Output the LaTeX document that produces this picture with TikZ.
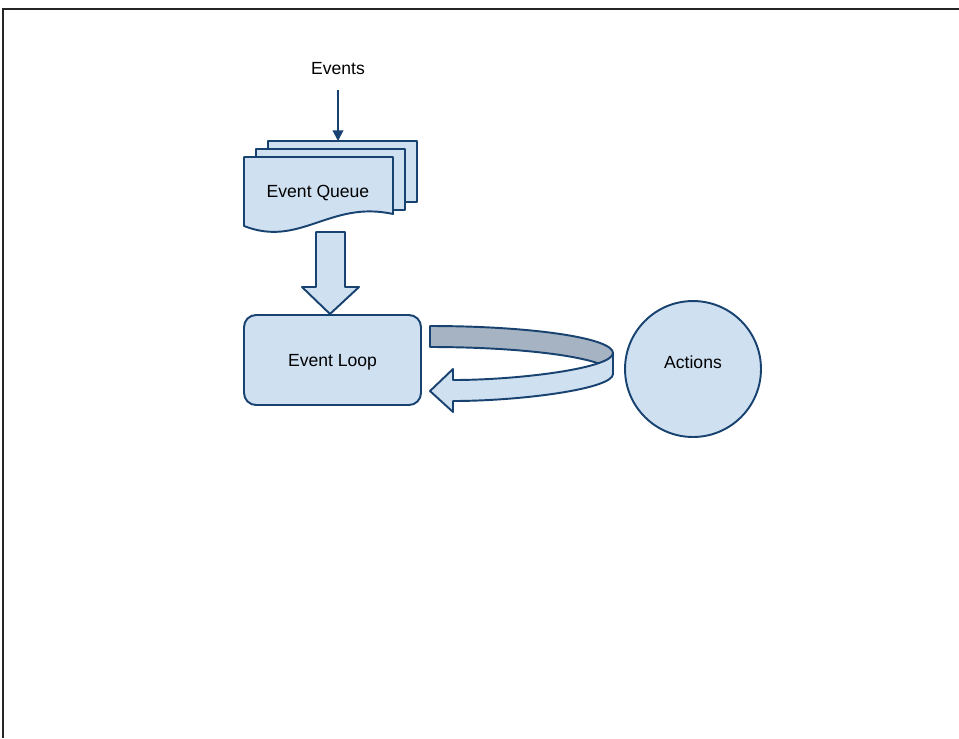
\documentclass[tikz,border=0pt]{standalone}
\usepackage{fontspec}
\setmainfont{Liberation Sans}
\usetikzlibrary{arrows.meta}
\definecolor{boxfill}{RGB}{207,224,241}
\definecolor{boxline}{RGB}{24,66,112}
\definecolor{bandgray}{RGB}{166,179,194}
\tikzset{>=latex}
\tikzset{bluefill/.style={fill=boxfill, draw=boxline, line width=1.1pt, line join=round}}

\begin{document}
\begin{tikzpicture}[x=0.02cm, y=-0.02cm, font=\fontsize{10}{12}\selectfont]
    \useasboundingbox (0,0) rectangle (959,738);
    \draw[line width=0.8pt, black!85](959, 9)--(3, 9)--(3, 738);
    \node (events) at (338, 69) {Events};
    \coordinate (qtop) at (338, 141);
    \draw[bluefill](268, 141) rectangle (417, 202);
    \draw[bluefill](256, 149) rectangle (405, 210);
    \draw[bluefill](244, 157)--(393, 157)--(393, 214) .. controls (330, 200) and (300, 248) .. (244, 226)--cycle;
    \node (queue) at (318, 193) {Event Queue};
    \draw[boxline, line width=1pt, -{Triangle[length=6pt, width=6pt]}, shorten <=5pt](events.south)--(qtop);
    \draw[bluefill](316, 232)--(345, 232)--(345, 287)--(359, 287)--(330, 314)--(302, 287)--(316, 287)--cycle;
    \node[bluefill, rounded corners=0.24cm, minimum width=3.54cm, minimum height=1.8cm, label={[yshift=-0.05cm]center:Event Loop}] (loop) at (332.5, 360) {};
    \node[bluefill, circle, minimum size=2.72cm, label={[yshift=0.14cm]center:Actions}] (actions) at (693, 369) {};
    \draw[bluefill, fill=bandgray](430, 326) .. controls (531, 326) and (613, 338) .. (613, 353)--(613, 374) .. controls (613, 359) and (531, 347) .. (430, 347)--cycle;
    \draw[bluefill](613, 353) .. controls (613, 368) and (520, 380) .. (453, 380)--(453, 369)--(430, 391)--(453, 412)--(453, 401) .. controls (520, 401) and (613, 389) .. (613, 374)--cycle;
\end{tikzpicture}
\end{document}
